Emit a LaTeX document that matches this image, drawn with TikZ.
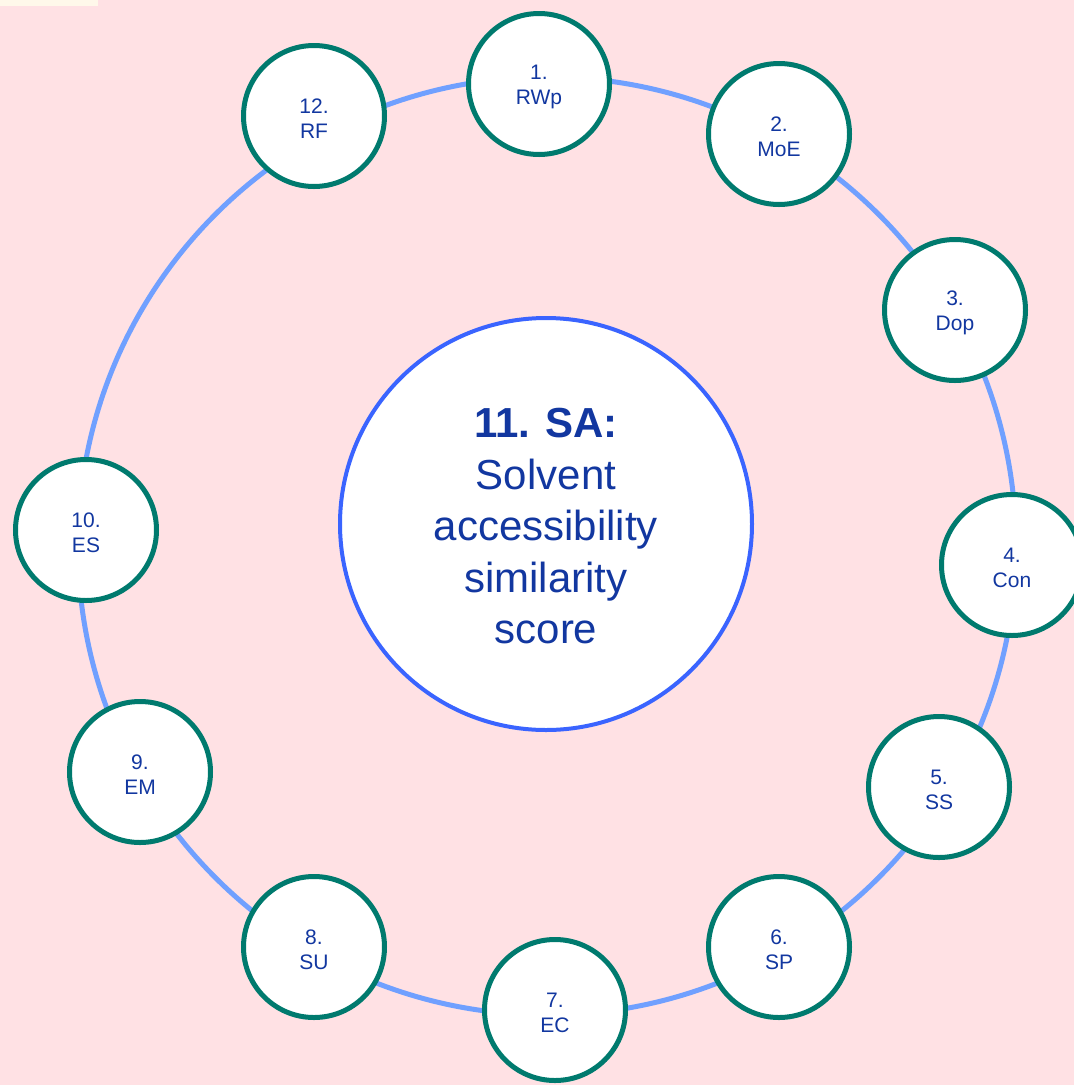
\documentclass[tikz,border=0pt]{standalone}
\usepackage{fontspec}
\setmainfont{Liberation Sans}
\definecolor{bgpink}{RGB}{255,225,228}
\definecolor{cream}{RGB}{255,248,234}
\definecolor{ringblue}{RGB}{112,160,255}
\definecolor{hubblue}{RGB}{58,100,255}
\definecolor{tealline}{RGB}{0,122,110}
\definecolor{labelblue}{RGB}{18,55,160}
\begin{document}
\begin{tikzpicture}[x=1pt,y=-1pt]
% radius of the small circles
\def\rad{70.5pt}
% node style definition
\tikzstyle{item} = [
	draw=tealline, line width=5pt, fill=white, circle,
	minimum size=2*\rad, inner sep=0pt ];
\tikzstyle{hub} = [
	draw=hubblue, line width=4pt, fill=white, circle,
	minimum size=412pt, inner sep=0pt ];
% text inside the circles, set a little low
\tikzstyle{itemtext} = [
	align=center, text=labelblue, yshift=-3pt,
	font=\fontsize{21}{25}\selectfont ];
\tikzstyle{hubtext} = [
	align=center, text=labelblue, yshift=-2.5pt,
	font=\fontsize{42}{51.5}\selectfont ];
\tikzstyle{ringline} = [draw=ringblue, line width=5pt];
% background
\fill[bgpink] (0,0) rectangle (1074,1085);
\fill[cream] (0,0) rectangle (98,6);
\useasboundingbox (0,0) rectangle (1074,1085);
% outer ring
\coordinate (ring) at (547,546);
\draw[ringline] (ring) circle (469pt);
% measures: number / x / y / short name
\def\items{1/539/84/RWp, 2/779/134/MoE, 3/955/310/Dop, 4/1012/565/Con,
	5/939/787/SS, 6/779/947/SP, 7/555/1010/EC, 8/314/947/SU,
	9/140/772/EM, 10/86/530/ES, 12/314/116/RF};
\foreach \n/\x/\y/\lbl in \items
{
	\node[item] (m\n) at (\x,\y) {};
	\node[itemtext] (t\n) at (m\n) {\n.\\\lbl};
}
% centre measure
\node[hub] (sa) at (546,524) {};
\node[hubtext] (satext) at (sa)
	{\textbf{11. SA:}\\Solvent\\accessibility\\similarity\\score};
\end{tikzpicture}
\end{document}
